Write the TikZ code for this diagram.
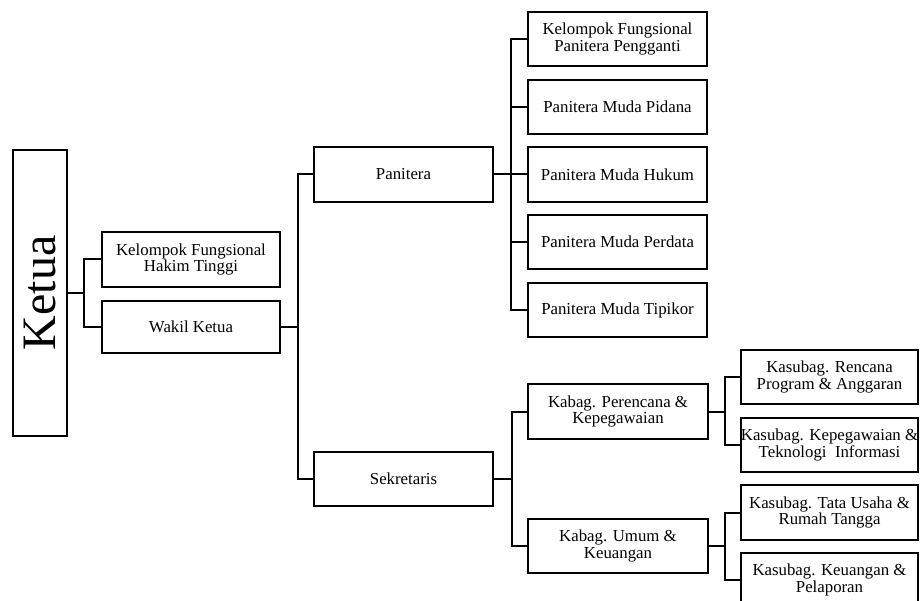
\documentclass[tikz,border=0pt]{standalone}
\usepackage{fontspec}
\setmainfont{Liberation Serif}
\begin{document}
\begin{tikzpicture}[x=1pt,y=-1pt,
  box/.style={draw=black,line width=2pt,rectangle,align=center,inner sep=0pt,
    font=\fontsize{16.8}{16.8}\selectfont},
  link/.style={draw=black,line width=2pt}]
\useasboundingbox (0,0) rectangle (920,601);
% nodes
\node[box,minimum width=54pt,minimum height=286pt] (ketua) at (40,293)
  {\rotatebox{90}{\fontsize{48}{48}\selectfont Ketua}};
\node[box,minimum width=178pt,minimum height=55pt] (kfht) at (191,259.5) {Kelompok Fungsional\\Hakim Tinggi};
\node[box,minimum width=178pt,minimum height=52pt] (wakil) at (191,327) {Wakil Ketua};
\node[box,minimum width=179pt,minimum height=55pt] (panitera) at (403.5,174.5) {Panitera};
\node[box,minimum width=179pt,minimum height=54pt] (sekretaris) at (403.5,479) {Sekretaris};
\node[box,minimum width=179pt,minimum height=54pt] (kfpp) at (617.5,39) {Kelompok Fungsional\\Panitera Pengganti};
\node[box,minimum width=179pt,minimum height=54pt] (pidana) at (617.5,107) {Panitera Muda Pidana};
\node[box,minimum width=179pt,minimum height=55pt] (hukum) at (617.5,174.5) {Panitera Muda Hukum};
\node[box,minimum width=179pt,minimum height=54pt] (perdata) at (617.5,242) {Panitera Muda Perdata};
\node[box,minimum width=179pt,minimum height=54pt] (tipikor) at (617.5,310) {Panitera Muda Tipikor};
\node[box,minimum width=180pt,minimum height=55pt] (perencana) at (618,411.5) {Kabag. Perencana \&\\Kepegawaian};
\node[box,minimum width=180pt,minimum height=54pt] (umum) at (618,546) {Kabag. Umum \&\\Keuangan};
\node[box,minimum width=177pt,minimum height=54pt] (rencana) at (829.5,377) {Kasubag. Rencana\\Program \& Anggaran};
\node[box,minimum width=177pt,minimum height=54pt] (kepeg) at (829.5,445) {Kasubag. Kepegawaian \&\\Teknologi\ \ Informasi};
\node[box,minimum width=177pt,minimum height=55pt] (tata) at (829.5,512.5) {Kasubag. Tata Usaha \&\\Rumah Tangga};
\node[box,minimum width=177pt,minimum height=54pt] (keu) at (829.5,580) {Kasubag. Keuangan \&\\Pelaporan};
% connectors
\foreach \c in {kfht,wakil} \draw[link] (ketua.east) -- ++(16,0) |- (\c.west);
\foreach \c in {panitera,sekretaris} \draw[link] (wakil.east) -- ++(17,0) |- (\c.west);
\foreach \c in {kfpp,pidana,hukum,perdata,tipikor} \draw[link] (panitera.east) -- ++(17,0) |- (\c.west);
\foreach \c in {perencana,umum} \draw[link] (sekretaris.east) -- ++(18,0) |- (\c.west);
\foreach \c in {rencana,kepeg} \draw[link] (perencana.east) -- ++(16,0) |- (\c.west);
\foreach \c in {tata,keu} \draw[link] (umum.east) -- ++(16,0) |- (\c.west);
\end{tikzpicture}
\end{document}
